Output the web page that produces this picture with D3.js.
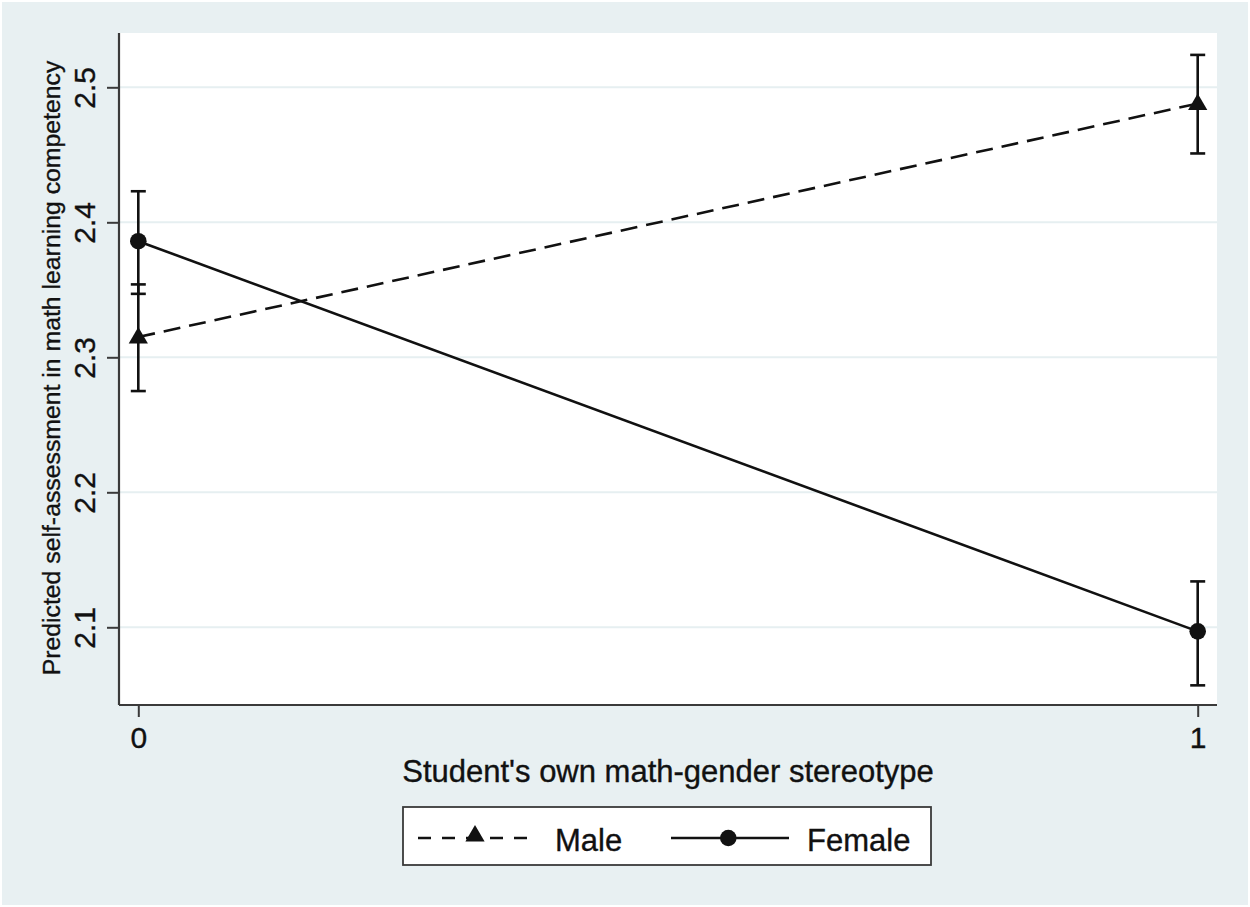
<!DOCTYPE html>
<html>
<head>
<meta charset="utf-8">
<script src="https://cdn.jsdelivr.net/npm/d3@7"></script>
<style>
  html, body { margin: 0; padding: 0; background: #ffffff; }
  svg { display: block; font-family: "Liberation Sans", Arial, Helvetica, sans-serif; }
  text { stroke: #111; stroke-width: 0.35px; }
</style>
</head>
<body>
<div id="chart"></div>
<script>
// categories on the x axis
const xCats = [0, 1];
// predicted margins and 95% CI
const maleMargin = [2.315, 2.488];
const maleLower = [2.275, 2.451];
const maleUpper = [2.354, 2.524];
const femaleMargin = [2.386, 2.097];
const femaleLower = [2.347, 2.057];
const femaleUpper = [2.423, 2.134];
const yTicks = [2.1, 2.2, 2.3, 2.4, 2.5];
const seriesNames = ["Male", "Female"];

const W = 1250, H = 907;
const plot = { left: 119, right: 1217, top: 33, bottom: 705 };
const midX = (plot.left + plot.right) / 2;
const ink = "#111";
const axisCol = "#3a3a3a";
const bg = "#e8f0f2";
const lw = 2.6;

const svg = d3.select("#chart").append("svg")
    .attr("width", W).attr("height", H);

svg.append("rect")
    .attr("x", 2).attr("y", 2)
    .attr("width", W - 4).attr("height", H - 4)
    .attr("fill", bg);

svg.append("rect")
    .attr("x", plot.left).attr("y", plot.top)
    .attr("width", plot.right - plot.left).attr("height", plot.bottom - plot.top)
    .attr("fill", "#fff");

const x = d3.scaleLinear().domain([0, 1]).range([138.3, 1197.7]);
const y = d3.scaleLinear().domain([2.1, 2.5]).range([627.3, 87.3]);

// gridlines
svg.append("g").selectAll("line").data(yTicks).enter().append("line")
    .attr("x1", plot.left).attr("x2", plot.right)
    .attr("y1", d => y(d)).attr("y2", d => y(d))
    .attr("stroke", "#e6eff1").attr("stroke-width", 2);

// y axis
const yAxis = svg.append("g")
    .attr("transform", `translate(${plot.left},0)`)
    .call(d3.axisLeft(y).tickValues(yTicks).tickSize(12).tickFormat(d3.format(".1f")));
yAxis.select(".domain").remove();
yAxis.selectAll(".tick line").attr("stroke", axisCol).attr("stroke-width", 2);
yAxis.selectAll(".tick text")
    .attr("transform", "rotate(-90)")
    .attr("x", 0).attr("y", -24).attr("dy", 0)
    .attr("text-anchor", "middle")
    .attr("font-size", "30px")
    .attr("font-family", "Liberation Sans, Arial, sans-serif")
    .attr("fill", ink);
svg.append("line")
    .attr("x1", plot.left).attr("x2", plot.left)
    .attr("y1", plot.top).attr("y2", plot.bottom)
    .attr("stroke", axisCol).attr("stroke-width", 2.2);

// x axis
const xAxis = svg.append("g")
    .attr("transform", `translate(0,${plot.bottom})`)
    .call(d3.axisBottom(x).tickValues(xCats).tickSize(12).tickFormat(d3.format("d")));
xAxis.select(".domain").remove();
xAxis.selectAll(".tick line").attr("stroke", axisCol).attr("stroke-width", 2);
xAxis.selectAll(".tick text")
    .attr("y", 43).attr("dy", 0)
    .attr("font-size", "30px")
    .attr("font-family", "Liberation Sans, Arial, sans-serif")
    .attr("fill", ink);
svg.append("line")
    .attr("x1", plot.left).attr("x2", plot.right)
    .attr("y1", plot.bottom).attr("y2", plot.bottom)
    .attr("stroke", axisCol).attr("stroke-width", 2.2);

// axis titles
svg.append("text")
    .attr("transform", "translate(60,368) rotate(-90)")
    .attr("text-anchor", "middle")
    .attr("font-size", "24.8px")
    .attr("fill", ink)
    .text("Predicted self-assessment in math learning competency");

svg.append("text")
    .attr("x", midX).attr("y", 782)
    .attr("text-anchor", "middle")
    .attr("font-size", "31px")
    .attr("fill", ink)
    .text("Student's own math-gender stereotype");

// series
const male = xCats.map((c, i) => ({ x: c, m: maleMargin[i], lo: maleLower[i], hi: maleUpper[i] }));
const female = xCats.map((c, i) => ({ x: c, m: femaleMargin[i], lo: femaleLower[i], hi: femaleUpper[i] }));

const capW = 7.5;
function drawCaps(data) {
    const g = svg.append("g").attr("stroke", ink).attr("stroke-width", lw);
    data.forEach(d => {
        g.append("line").attr("x1", x(d.x)).attr("x2", x(d.x))
            .attr("y1", y(d.lo)).attr("y2", y(d.hi));
        g.append("line").attr("x1", x(d.x) - capW).attr("x2", x(d.x) + capW)
            .attr("y1", y(d.lo)).attr("y2", y(d.lo));
        g.append("line").attr("x1", x(d.x) - capW).attr("x2", x(d.x) + capW)
            .attr("y1", y(d.hi)).attr("y2", y(d.hi));
    });
}
drawCaps(female);
drawCaps(male);

const line = d3.line().x(d => x(d.x)).y(d => y(d.m));
svg.append("path").datum(male).attr("d", line)
    .attr("fill", "none").attr("stroke", ink).attr("stroke-width", lw)
    .attr("stroke-dasharray", "17,9");
svg.append("path").datum(female).attr("d", line)
    .attr("fill", "none").attr("stroke", ink).attr("stroke-width", lw);

const tri = d3.symbol().type(d3.symbolTriangle).size(160);
svg.append("g").selectAll("path").data(male).enter().append("path")
    .attr("d", tri)
    .attr("transform", d => `translate(${x(d.x)},${y(d.m) + 1})`)
    .attr("fill", ink);
svg.append("g").selectAll("circle").data(female).enter().append("circle")
    .attr("cx", d => x(d.x)).attr("cy", d => y(d.m)).attr("r", 8.3)
    .attr("fill", ink);

// legend
const lg = svg.append("g");
lg.append("rect")
    .attr("x", 403).attr("y", 807).attr("width", 528).attr("height", 58)
    .attr("fill", "#fff").attr("stroke", axisCol).attr("stroke-width", 1.8);
const ly = 838;
lg.append("line").attr("x1", 418).attr("x2", 537).attr("y1", ly).attr("y2", ly)
    .attr("stroke", ink).attr("stroke-width", lw).attr("stroke-dasharray", "13,11");
lg.append("path").attr("d", tri).attr("transform", `translate(475,${ly - 2})`).attr("fill", ink);
lg.append("text").attr("x", 555).attr("y", 851).attr("font-size", "31px").attr("fill", ink).text(seriesNames[0]);
lg.append("line").attr("x1", 671).attr("x2", 789).attr("y1", ly).attr("y2", ly)
    .attr("stroke", ink).attr("stroke-width", lw);
lg.append("circle").attr("cx", 728.3).attr("cy", ly).attr("r", 8.3).attr("fill", ink);
lg.append("text").attr("x", 807).attr("y", 851).attr("font-size", "31px").attr("fill", ink).text(seriesNames[1]);
</script>
</body>
</html>
